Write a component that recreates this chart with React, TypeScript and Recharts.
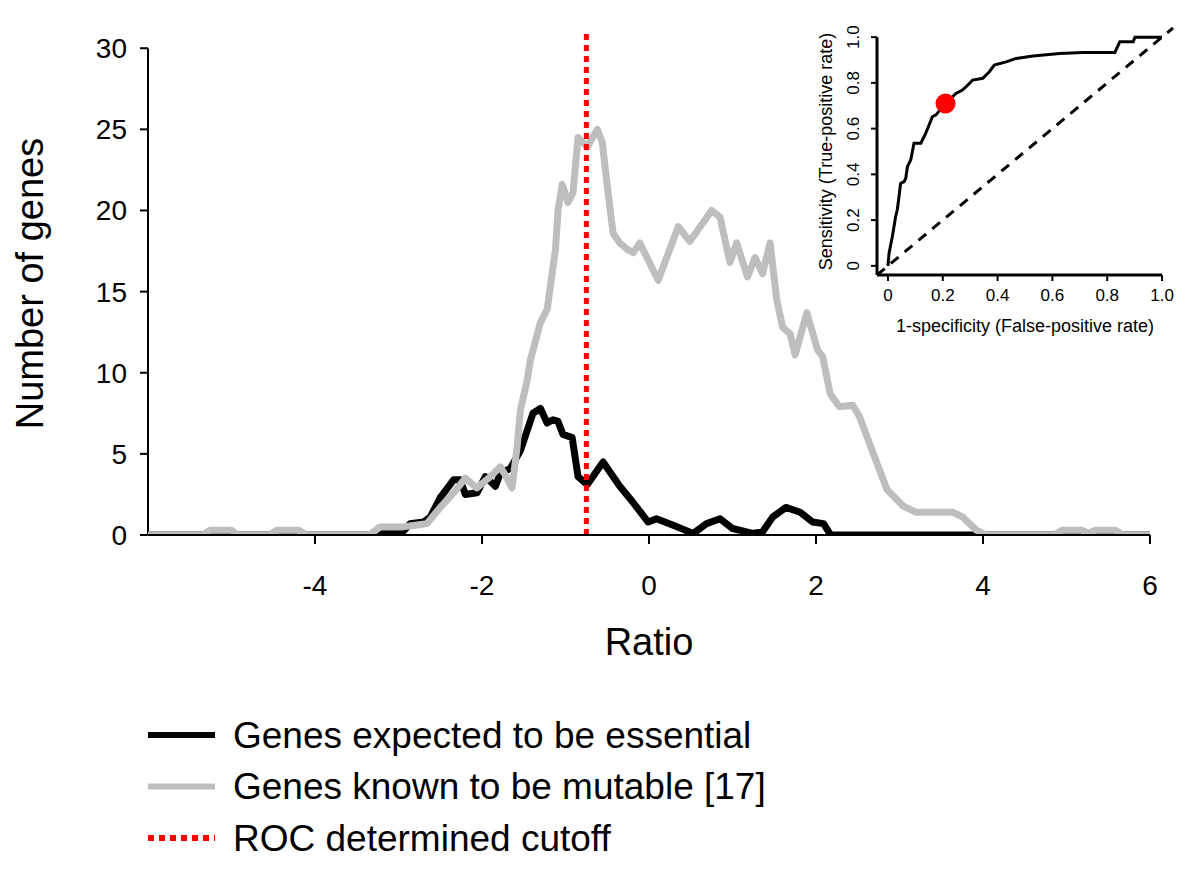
import { LineChart, Line, XAxis, YAxis, ReferenceLine, ReferenceDot, Label } from "recharts";

// essential genes (black)
const essentialRatio = [
  -6, -5.3, -5.22, -5.02, -4.95, -4.52, -4.45, -4.2, -4.12, -3.3, -3.2, -2.95, -2.86, -2.7, -2.62,
  -2.5, -2.34, -2.26, -2.2, -2.06, -1.96, -1.84, -1.78, -1.66, -1.54, -1.39, -1.3, -1.22, -1.15,
  -1.09, -1.03, -0.92, -0.85, -0.74, -0.55, -0.35, -0.19, -0.01, 0.09, 0.29, 0.53, 0.69, 0.85, 1.0,
  1.24, 1.36, 1.48, 1.64, 1.81, 1.96, 2.09, 2.17, 2.2, 4.9, 4.98, 5.2, 5.27, 5.32, 5.6, 5.67, 6,
];
const essentialCount = [
  0, 0, 0.2, 0.2, 0, 0, 0.2, 0.2, 0, 0, 0.15, 0.2, 0.7, 0.8, 1.1,
  2.3, 3.4, 3.4, 2.5, 2.6, 3.6, 3.0, 3.8, 4.1, 5.2, 7.5, 7.8, 6.9, 7.1,
  7.0, 6.2, 6.0, 3.6, 3.1, 4.5, 3.0, 2.0, 0.8, 1.0, 0.6, 0.1, 0.7, 1.0, 0.4,
  0.1, 0.2, 1.1, 1.7, 1.4, 0.8, 0.7, 0.05, 0, 0, 0.2, 0.2, 0, 0.2, 0.2, 0, 0,
];

// mutable genes (grey)
const mutableRatio = [
  -6, -5.35, -5.25, -5.0, -4.93, -4.55, -4.45, -4.2, -4.1, -3.35, -3.22, -2.95, -2.8, -2.66, -2.5,
  -2.34, -2.2, -2.06, -1.9, -1.78, -1.7, -1.64, -1.58, -1.54, -1.46, -1.42, -1.3, -1.22, -1.12,
  -1.09, -1.04, -0.97, -0.91, -0.85, -0.74, -0.62, -0.56, -0.49, -0.43, -0.35, -0.26, -0.19, -0.11,
  0.11, 0.35, 0.49, 0.75, 0.85, 0.97, 1.05, 1.18, 1.27, 1.36, 1.45, 1.53, 1.6, 1.69, 1.75, 1.89,
  2.02, 2.08, 2.17, 2.28, 2.44, 2.52, 2.68, 2.85, 3.04, 3.2, 3.64, 3.76, 3.92, 4.04, 4.85, 4.95,
  5.18, 5.27, 5.35, 5.58, 5.68, 6,
];
const mutableCount = [
  0, 0, 0.3, 0.3, 0, 0, 0.3, 0.3, 0, 0, 0.5, 0.5, 0.6, 0.7, 1.7,
  2.6, 3.5, 2.9, 3.6, 4.2, 3.5, 2.9, 5.4, 7.7, 9.5, 10.8, 13.1, 13.9, 17.6,
  20.0, 21.6, 20.5, 21.1, 24.5, 23.9, 25.0, 24.2, 21.1, 18.6, 18.0, 17.6, 17.4, 18.0,
  15.7, 19.0, 18.1, 20.0, 19.6, 16.8, 18.0, 15.9, 17.1, 16.1, 18.0, 14.5, 12.8, 12.4, 11.1, 13.7,
  11.4, 11.0, 8.7, 7.9, 8.0, 7.3, 5.1, 2.8, 1.8, 1.4, 1.4, 1.1, 0.3, 0, 0, 0.3,
  0.3, 0.1, 0.3, 0.3, 0, 0,
];

const cutoffRatio = -0.75;

// inset ROC
const rocFpr = [
  0, 0.004, 0.016, 0.028, 0.034, 0.04, 0.046, 0.059, 0.065, 0.071, 0.083, 0.095, 0.12, 0.138,
  0.162, 0.175, 0.211, 0.248, 0.272, 0.285, 0.309, 0.346, 0.37, 0.388, 0.431, 0.468, 0.529,
  0.626, 0.712, 0.828, 0.846, 0.895, 0.901, 1.0,
];
const rocTpr = [
  0, 0.055, 0.128, 0.215, 0.245, 0.3, 0.36, 0.368, 0.383, 0.434, 0.463, 0.536, 0.536, 0.58,
  0.652, 0.66, 0.71, 0.754, 0.769, 0.783, 0.812, 0.82, 0.849, 0.878, 0.892, 0.907, 0.918,
  0.929, 0.933, 0.933, 0.98, 0.98, 1.0, 1.0,
];
const cutoffFpr = 0.21;
const cutoffTpr = 0.71;

const ratioTicks = [-4, -2, 0, 2, 4, 6];
const countTicks = [0, 5, 10, 15, 20, 25, 30];
const rateTicks = [0, 0.2, 0.4, 0.6, 0.8, 1.0];

const legendLabels = [
  "Genes expected to be essential",
  "Genes known to be mutable [17]",
  "ROC determined cutoff",
];

const FONT = "'Liberation Sans', Arial, Helvetica, sans-serif";
const GREY = "#bebebe";

const essential = essentialRatio.map((x, i) => ({ x, y: essentialCount[i] }));
const mutable = mutableRatio.map((x, i) => ({ x, y: mutableCount[i] }));
const roc = rocFpr.map((x, i) => ({ x, y: rocTpr[i] }));

const rateFmt = (v: number) => (v === 0 ? "0" : v.toFixed(1));

const RotatedTick = ({ x, y, payload }: any) => (
  <text
    x={x}
    y={y}
    transform={`rotate(-90, ${x}, ${y})`}
    textAnchor="middle"
    fontSize={17}
    fill="#000"
    fontFamily={FONT}
  >
    {rateFmt(payload.value)}
  </text>
);

const App = () => {
  return (
    <div style={{ position: "relative", width: 1184, height: 860, fontFamily: FONT }}>
      <LineChart
        width={1184}
        height={667}
        margin={{ top: 24, right: 42, bottom: 0, left: 0 }}
        style={{ position: "absolute", left: 0, top: 0 }}
      >
        <XAxis
          type="number"
          dataKey="x"
          domain={[-6, 6]}
          ticks={ratioTicks}
          allowDataOverflow
          height={140}
          stroke="#000"
          strokeWidth={2}
          tickSize={9}
          tickMargin={31}
          tick={{ fontSize: 28, fill: "#000", fontFamily: FONT }}
        >
          <Label
            value="Ratio"
            position="insideBottom"
            offset={20}
            style={{ fontSize: 38, fill: "#000", fontFamily: FONT }}
          />
        </XAxis>
        <YAxis
          type="number"
          domain={[0, 31]}
          ticks={countTicks}
          allowDataOverflow
          width={140}
          axisLine={false}
          stroke="#000"
          strokeWidth={2}
          tickSize={8}
          tickMargin={13}
          tick={{ fontSize: 28, fill: "#000", fontFamily: FONT }}
        >
          <Label
            value="Number of genes"
            angle={-90}
            position="insideLeft"
            offset={22}
            style={{ fontSize: 38, fill: "#000", fontFamily: FONT, textAnchor: "middle" }}
          />
        </YAxis>
        <ReferenceLine
          segment={[{ x: -6, y: 0 }, { x: -6, y: 30 }]}
          stroke="#000"
          strokeWidth={2}
        />
        <Line
          data={essential}
          dataKey="y"
          type="linear"
          stroke="#000"
          strokeWidth={7}
          dot={false}
          strokeLinejoin="round"
          isAnimationActive={false}
        />
        <Line
          data={mutable}
          dataKey="y"
          type="linear"
          stroke={GREY}
          strokeWidth={7}
          dot={false}
          strokeLinejoin="round"
          isAnimationActive={false}
        />
        <ReferenceLine x={cutoffRatio} stroke="#ff0000" strokeWidth={5} strokeDasharray="6 5" />
      </LineChart>

      <LineChart
        width={404}
        height={345}
        margin={{ top: 20, right: 19, bottom: 0, left: 0 }}
        style={{ position: "absolute", left: 780, top: 0 }}
      >
        <XAxis
          type="number"
          dataKey="x"
          domain={[-0.04, 1.04]}
          ticks={rateTicks}
          tickFormatter={rateFmt}
          allowDataOverflow
          height={78}
          axisLine={false}
          stroke="#000"
          strokeWidth={2}
          tickSize={6}
          tickMargin={8}
          tick={{ fontSize: 17, fill: "#000", fontFamily: FONT }}
        >
          <Label
            value="1-specificity (False-positive rate)"
            position="insideBottom"
            offset={21}
            style={{ fontSize: 18, fill: "#000", fontFamily: FONT }}
          />
        </XAxis>
        <YAxis
          type="number"
          domain={[-0.04, 1.04]}
          ticks={rateTicks}
          allowDataOverflow
          width={89}
          axisLine={false}
          stroke="#000"
          strokeWidth={2}
          tickSize={6}
          tickMargin={12}
          tick={<RotatedTick />}
        >
          <Label
            value="Sensitivity (True-positive rate)"
            angle={-90}
            position="insideLeft"
            offset={38}
            style={{ fontSize: 18, fill: "#000", fontFamily: FONT, textAnchor: "middle" }}
          />
        </YAxis>
        <ReferenceLine
          segment={[{ x: -0.04, y: -0.04 }, { x: 1, y: -0.04 }]}
          stroke="#000"
          strokeWidth={3}
        />
        <ReferenceLine
          segment={[{ x: -0.04, y: -0.04 }, { x: -0.04, y: 1 }]}
          stroke="#000"
          strokeWidth={3}
        />
        <ReferenceLine
          segment={[{ x: -0.04, y: -0.04 }, { x: 1.04, y: 1.04 }]}
          stroke="#000"
          strokeWidth={3}
          strokeDasharray="10 8"
        />
        <Line
          data={roc}
          dataKey="y"
          type="linear"
          stroke="#000"
          strokeWidth={3}
          dot={false}
          isAnimationActive={false}
        />
        <ReferenceDot x={cutoffFpr} y={cutoffTpr} r={10} fill="#ff0000" stroke="none" />
      </LineChart>

      <svg
        width={900}
        height={170}
        style={{ position: "absolute", left: 0, top: 690 }}
      >
        {legendLabels.map((label, i) => {
          const y = 37 + i * 51.5;
          const color = i === 0 ? "#000" : i === 1 ? GREY : "#ff0000";
          return (
            <g key={label}>
              <line
                x1={140}
                x2={207}
                y1={y}
                y2={y}
                stroke={color}
                strokeWidth={6}
                strokeDasharray={i === 2 ? "6 5" : undefined}
              />
              <text
                x={225}
                y={y}
                dominantBaseline="central"
                fontSize={37}
                fill="#000"
                fontFamily={FONT}
              >
                {label}
              </text>
            </g>
          );
        })}
      </svg>
    </div>
  );
};

export default App;
